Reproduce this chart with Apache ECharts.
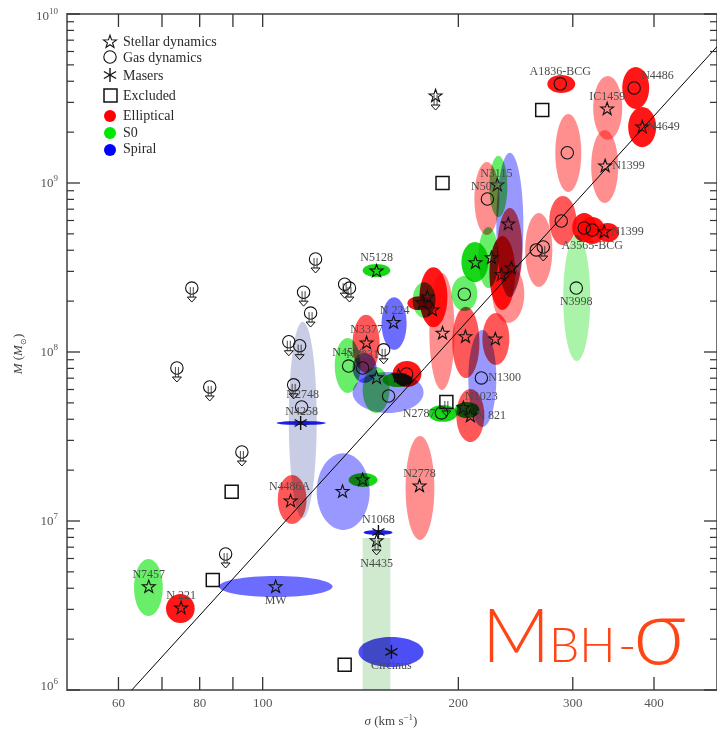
<!DOCTYPE html>
<html>
<head>
<meta charset="utf-8">
<script src="https://cdn.jsdelivr.net/npm/echarts@6/dist/echarts.min.js"></script>
<style>
  html, body { margin: 0; padding: 0; background: #ffffff; }
  #chart { width: 717px; height: 735px; }
</style>
</head>
<body>
<div id="chart"></div>
<script>
// Black-hole mass against bulge velocity dispersion, with error ellipses
// coloured by host type and markers by measurement method.

// ---- axis ticks ----
const xTickValues = [60, 70, 80, 90, 100, 200, 300, 400];
const xTickLabels = ['60', '', '80', '', '100', '200', '300', '400'];
const yDecades = [1e6, 1e7, 1e8, 1e9, 1e10];
const yDecadeExp = ['6', '7', '8', '9', '10'];
const yMinorSteps = [2, 3, 4, 5, 6, 7, 8, 9];

// ---- stellar-dynamics measurements ----
const starName = ['N7457', 'N 221', 'MW', 'N4486A', '', '', 'N4435', 'N2778', 'N5128', 'N 224',
  'N3377', '', '', 'N1023', 'N 821', '', '', '', '', '', '', '', '', '', '', '',
  'N3115', 'N1399', 'IC1459', 'N1399', 'N4649', ''];
const starSigma = [66.8, 74.9, 104.7, 110.4, 132.7, 142.5, 149.7, 174.3, 149.7, 159.0,
  144.5, 149.7, 161.8, 203.6, 208.7, 189.1, 205.1, 228.0, 179.2, 176.1, 182.5, 212.5, 224.9, 232.9, 241.3, 238.7,
  229.6, 335.3, 338.8, 336.4, 383.6, 184.5];
const starMass = [4.07e6, 3.05e6, 4.07e6, 1.31e7, 1.49e7, 1.75e7, 7.62e6, 1.61e7, 3.01e8, 1.49e8,
  1.13e8, 7.02e7, 7.21e7, 4.67e7, 4.18e7, 1.29e8, 1.23e8, 1.19e8, 2.11e8, 1.95e8, 1.77e8, 3.37e8, 3.60e8, 2.86e8, 3.14e8, 5.71e8,
  9.73e8, 5.13e8, 2.74e9, 1.26e9, 2.14e9, 3.27e9];
const starUpper = [0, 0, 0, 0, 0, 0, 1, 0, 0, 0,
  0, 0, 0, 0, 0, 0, 0, 0, 0, 0, 0, 0, 0, 0, 0, 0,
  0, 0, 0, 0, 0, 1];

// ---- gas-dynamics measurements ----
const gasName = ['N2748', 'N4596', 'N3031', '', '', 'N2787', 'N1300', '', 'N5077', '', '',
  'A3565-BCG', '', '', '', 'A1836-BCG', 'N4486', 'N3998',
  '', '', '', '', '', '', '', '', '', '', '', '', '', ''];
const gasSigma = [114.8, 135.6, 142.5, 156.2, 166.5, 188.4, 217.0, 204.3, 221.7, 263.6, 270.2,
  288.0, 312.4, 321.4, 294.2, 287.0, 372.8, 303.7,
  77.8, 73.8, 82.9, 92.9, 87.7, 120.6, 115.6, 118.5, 133.7, 136.0, 109.7, 114.0, 111.6, 153.5];
const gasMass = [4.73e7, 8.26e7, 8.04e7, 5.49e7, 7.41e7, 4.36e7, 7.02e7, 2.20e8, 8.04e8, 4.02e8, 4.18e8,
  5.96e8, 5.42e8, 5.27e8, 1.51e9, 3.86e9, 3.65e9, 2.39e8,
  2.39e8, 8.04e7, 6.21e7, 2.56e7, 6.38e6, 3.55e8, 2.26e8, 1.70e8, 2.52e8, 2.39e8, 1.15e8, 1.09e8, 6.39e7, 1.03e8];
const gasUpper = [0, 0, 0, 0, 0, 0, 0, 0, 0, 0, 1,
  0, 0, 0, 0, 0, 0, 0,
  1, 1, 1, 1, 1, 1, 1, 1, 1, 1, 1, 1, 1, 1];

// ---- maser measurements ----
const maserName = ['N1068', 'Circinus', 'N4258'];
const maserSigma = [150.7, 157.8, 114.4];
const maserMass = [8.61e6, 1.68e6, 3.80e7];

// ---- excluded objects ----
const exclSigma = [89.6, 83.8, 133.7, 269.2, 189.1, 191.7];
const exclMass = [1.49e7, 4.48e6, 1.41e6, 2.70e9, 1.0e9, 5.06e7];
const exclUpper = [0, 0, 0, 0, 0, 1];

// ---- error regions (sigma range, mass range, host type, shade) ----
const ellSigmaLo = [63.4, 71.0, 85.6, 105.5, 121.1, 135.6, 143.0, 140.4, 165.9, 105.1, 109.7,
  142.5, 152.4, 137.5, 129.1, 137.5, 142.5, 137.5, 158.4, 152.9, 179.8, 197.3, 198.6, 207.2,
  180.5, 195.8, 217.8, 195.2, 174.3, 170.1, 167.0, 202.2, 214.7, 223.3, 225.6, 229.6, 228.8,
  223.3, 211.7, 253.5, 276.1, 299.4, 306.9, 326.0, 282.0, 274.1, 357.4, 322.5, 320.2, 365.0, 290.0,
  142.5];
const ellSigmaHi = [70.2, 78.6, 128.1, 116.8, 146.1, 150.2, 158.4, 176.8, 183.7, 125.0, 121.1,
  157.2, 166.5, 151.3, 141.4, 149.7, 156.7, 176.8, 175.5, 170.0, 199.3, 215.5, 219.3, 228.8,
  197.3, 215.5, 239.6, 213.9, 192.4, 184.5, 181.8, 222.5, 230.5, 244.7, 252.6, 250.9, 251.8,
  237.9, 231.3, 279.0, 303.7, 326.0, 336.4, 353.6, 309.1, 302.6, 393.2, 357.4, 352.3, 403.1, 319.1,
  157.2];
const ellMassLo = [2.74e6, 2.49e6, 3.55e6, 9.60e6, 8.85e6, 1.59e7, 8.26e6, 1.37e6, 7.73e6, 3.70e7, 1.04e7,
  2.78e8, 1.03e8, 7.52e7, 5.72e7, 6.56e7, 4.36e7, 4.36e7, 6.21e7, 6.21e7, 3.86e7, 4.06e7, 2.93e7, 3.60e7,
  5.96e7, 7.02e7, 8.38e7, 1.75e8, 1.40e8, 1.59e8, 1.77e8, 2.59e8, 2.39e8, 1.77e8, 1.49e8, 2.23e8, 2.11e8,
  6.29e8, 4.92e8, 2.43e8, 4.29e8, 4.48e8, 4.36e8, 4.48e8, 8.85e8, 3.41e9, 2.74e9, 1.80e9, 7.62e8, 1.63e9, 8.85e7,
  1.0e5];
const ellMassHi = [5.96e6, 3.70e6, 4.73e6, 1.87e7, 2.52e7, 1.92e7, 8.85e6, 2.06e6, 3.18e7, 3.91e7, 1.51e8,
  3.32e8, 2.11e8, 1.66e8, 1.21e8, 9.86e7, 8.15e7, 7.62e7, 8.85e7, 7.52e7, 4.86e7, 5.06e7, 6.04e7, 1.35e8,
  2.93e8, 1.85e8, 1.70e8, 2.82e8, 3.17e8, 2.59e8, 2.14e8, 4.48e8, 5.50e8, 4.85e8, 3.27e8, 7.11e8, 1.51e9,
  1.45e9, 1.33e9, 6.64e8, 8.38e8, 6.64e8, 6.29e8, 5.80e8, 2.56e9, 4.35e9, 4.85e9, 4.30e9, 2.06e9, 2.82e9, 4.92e8,
  7.93e6];
const ellType = ['S0', 'E', 'S', 'E', 'S', 'S0', 'S', 'S', 'E', 'S', 'S',
  'S0', 'S', 'E', 'S0', 'S', 'S0', 'S', 'E', 'S0', 'S0', 'S0', 'E', 'S',
  'E', 'E', 'E', 'S0', 'E', 'S0', 'E', 'S0', 'S0', 'E', 'E', 'E', 'S',
  'S0', 'E', 'E', 'E', 'E', 'E', 'E', 'E', 'E', 'E', 'E', 'E', 'E', 'S0',
  'S0'];
const ellShade = ['mid', 'dark', 'mid', 'mid', 'light', 'dark', 'deep', 'dark', 'light', 'deep', 'pale',
  'dark', 'mid', 'mid', 'mid', 'mid', 'mid', 'light', 'dark', 'dark', 'dark', 'dark', 'mid', 'light',
  'light', 'mid', 'mid', 'mid', 'dark', 'mid', 'dark', 'dark', 'mid', 'dark', 'light', 'mid', 'light',
  'mid', 'light', 'light', 'mid', 'dark', 'dark', 'dark', 'light', 'dark', 'dark', 'light', 'light', 'dark', 'light',
  'pale'];
const ellShape = Array(51).fill('ellipse').concat(['band']);

// ---- best-fit relation, end points ----
const fitLine = [[62.9, 1.0e6], [500, 6.41e9]];

// ---- styling ----
const SERIF = '"Liberation Serif", "Times New Roman", serif';
const TITLE_FONT = 'Lato, "Open Sans", "Liberation Sans", sans-serif';
const INK = '#111111';
const LABEL_INK = '#4a4a4a';
const TITLE_INK = '#ff4515';
const palette = {
  E:  { dark: 'rgb(255,22,22)', mid: 'rgb(255,88,88)', light: 'rgb(255,142,142)' },
  S0: { dark: 'rgb(24,214,24)', mid: 'rgb(104,238,104)', light: 'rgb(170,244,170)', pale: 'rgb(208,234,208)' },
  S:  { deep: 'rgb(30,30,235)', dark: 'rgb(78,78,245)', mid: 'rgb(108,108,255)', light: 'rgb(152,152,255)', pale: 'rgb(200,204,228)' }
};
// label anchor: [align, dx, dy] relative to the marker
const labelPlace = {
  'N7457': ['center', 0, -12], 'N 221': ['center', 0, -12], 'MW': ['center', 0, 14],
  'N4486A': ['center', -1, -14], 'N4435': ['center', 0, 23], 'N2778': ['center', 0, -12],
  'N5128': ['center', 0, -13], 'N 224': ['center', 1, -12], 'N3377': ['center', 0, -13],
  'N1023': ['center', 18, -11], 'N 821': ['left', 6, 0], 'N3115': ['center', -1, -11],
  'N1399': ['left', 7, 0], 'IC1459': ['center', 0, -12], 'N4649': ['left', 5, 0],
  'N2748': ['center', 1, -12], 'N4596': ['center', 0, -13], 'N3031': ['center', 0, -13],
  'N2787': ['right', -6, 1], 'N1300': ['left', 7, 0], 'N5077': ['center', 0, -12],
  'A3565-BCG': ['center', 31, 25], 'A1836-BCG': ['center', 0, -12], 'N4486': ['left', 7, -12],
  'N3998': ['center', 0, 14], 'N1068': ['center', 0, -12], 'Circinus': ['center', 0, 14],
  'N4258': ['center', 1, -11]
};
const yLabelShift = [-3, 1, 1, 1, 3];

// ---- marker drawing helpers ----
function starPoints(x, y, R, r) {
  const pts = [];
  for (let k = 0; k < 10; k++) {
    const a = -Math.PI / 2 + k * Math.PI / 5;
    const rad = k % 2 ? r : R;
    pts.push([x + rad * Math.cos(a), y + rad * Math.sin(a)]);
  }
  return pts;
}
function starEl(x, y) {
  return { type: 'polygon', shape: { points: starPoints(x, y, 6.8, 2.7) },
    style: { fill: 'none', stroke: INK, lineWidth: 1.1 } };
}
function circleEl(x, y) {
  return { type: 'circle', shape: { cx: x, cy: y, r: 6.2 },
    style: { fill: 'none', stroke: INK, lineWidth: 1.1 } };
}
function squareEl(x, y) {
  return { type: 'rect', shape: { x: x - 6.5, y: y - 6.5, width: 13, height: 13 },
    style: { fill: 'none', stroke: INK, lineWidth: 1.5 } };
}
function asteriskEls(x, y) {
  const els = [];
  [90, 30, 150].forEach(function (deg) {
    const a = deg * Math.PI / 180, L = 7;
    els.push({ type: 'line', shape: { x1: x - L * Math.cos(a), y1: y - L * Math.sin(a),
      x2: x + L * Math.cos(a), y2: y + L * Math.sin(a) }, style: { stroke: INK, lineWidth: 1.4 } });
  });
  return els;
}
function arrowEls(x, y) {
  return [
    { type: 'line', shape: { x1: x - 1.5, y1: y - 1, x2: x - 1.5, y2: y + 9 }, style: { stroke: '#333', lineWidth: 0.9 } },
    { type: 'line', shape: { x1: x + 1.5, y1: y - 1, x2: x + 1.5, y2: y + 9 }, style: { stroke: '#333', lineWidth: 0.9 } },
    { type: 'polygon', shape: { points: [[x - 4.5, y + 9], [x + 4.5, y + 9], [x, y + 14]] },
      style: { fill: 'none', stroke: INK, lineWidth: 1 } }
  ];
}
function labelEl(name, x, y) {
  const p = labelPlace[name] || ['center', 0, -12];
  return { type: 'text', x: x + p[1], y: y + p[2],
    style: { text: name, fill: LABEL_INK, fontSize: 12, fontFamily: SERIF,
      align: p[0], verticalAlign: 'middle', textAlign: p[0], textVerticalAlign: 'middle' } };
}

function markerSeries(sigmaArr, massArr, nameArr, upperArr, drawFn) {
  return {
    type: 'custom', z: 6, clip: false, silent: true,
    data: sigmaArr.map(function (s, i) { return [s, massArr[i]]; }),
    encode: { x: 0, y: 1 },
    renderItem: function (params, api) {
      const i = params.dataIndex;
      const c = api.coord([api.value(0), api.value(1)]);
      let children = [].concat(drawFn(c[0], c[1]));
      if (upperArr && upperArr[i]) children = children.concat(arrowEls(c[0], c[1]));
      if (nameArr && nameArr[i]) children.push(labelEl(nameArr[i], c[0], c[1]));
      return { type: 'group', children: children };
    }
  };
}

function titlePart(text, x, y, size) {
  return { type: 'text', x: x, y: y, z: 100, style: { text: text, fill: TITLE_INK, fontSize: size,
    fontFamily: TITLE_FONT, fontWeight: 300, align: 'left', verticalAlign: 'middle' } };
}

const chart = echarts.init(document.getElementById('chart'), null, { renderer: 'canvas' });

// tick values for the mass axis
const yMinorValues = [];
yDecades.slice(0, -1).forEach(function (d) {
  yMinorSteps.forEach(function (s) { yMinorValues.push(s * d); });
});

const legendText = ['Stellar dynamics', 'Gas dynamics', 'Masers', 'Excluded', 'Elliptical', 'S0', 'Spiral'];
const legendY = [42, 58, 76, 96, 116, 133, 149];

const option = {
  animation: false,
  backgroundColor: '#ffffff',
  grid: { left: 67, top: 14, width: 651, height: 676, show: true,
    borderColor: '#707070', borderWidth: 2, backgroundColor: 'transparent' },
  xAxis: { type: 'log', logBase: 10, min: 50, max: 500,
    axisLine: { show: false }, axisTick: { show: false }, axisLabel: { show: false }, splitLine: { show: false } },
  yAxis: { type: 'log', logBase: 10, min: 1e6, max: 1e10,
    axisLine: { show: false }, axisTick: { show: false }, axisLabel: { show: false }, splitLine: { show: false } },
  graphic: [
    // legend symbols
    { type: 'polygon', shape: { points: starPoints(110, 42, 6.8, 2.7) }, style: { fill: 'none', stroke: INK, lineWidth: 1.1 } },
    { type: 'circle', shape: { cx: 110, cy: 57, r: 6.2 }, style: { fill: 'none', stroke: INK, lineWidth: 1.1 } },
    { type: 'group', children: asteriskEls(110, 75) },
    { type: 'rect', shape: { x: 104, y: 89, width: 13, height: 13 }, style: { fill: 'none', stroke: INK, lineWidth: 1.5 } },
    { type: 'circle', shape: { cx: 110, cy: 116, r: 6 }, style: { fill: 'rgb(255,0,0)' } },
    { type: 'circle', shape: { cx: 110, cy: 133, r: 6 }, style: { fill: 'rgb(0,232,0)' } },
    { type: 'circle', shape: { cx: 110, cy: 150, r: 6 }, style: { fill: 'rgb(0,0,255)' } }
  ].concat(legendText.map(function (t, i) {
    return { type: 'text', x: 123, y: legendY[i],
      style: { text: t, fill: '#2a2a2a', fontSize: 14, fontFamily: SERIF, verticalAlign: 'middle' } };
  })).concat([
    // axis titles
    { type: 'text', x: 391, y: 722, style: {
      text: '{i|σ} (km s{e|−1})', align: 'center', verticalAlign: 'middle', fill: '#444',
      fontSize: 13, fontFamily: SERIF,
      rich: { i: { fontStyle: 'italic', fontSize: 13, fontFamily: SERIF, fill: '#444', lineHeight: 18 },
              e: { fontSize: 9, fontFamily: SERIF, fill: '#444', lineHeight: 8, verticalAlign: 'top' } } } },
    { type: 'text', x: 19, y: 354, rotation: Math.PI / 2, style: {
      text: '{i|M} ({i|M}{s|⊙})', align: 'center', verticalAlign: 'middle', fill: '#444',
      fontSize: 13, fontFamily: SERIF,
      rich: { i: { fontStyle: 'italic', fontSize: 13, fontFamily: SERIF, fill: '#444', lineHeight: 18 },
              s: { fontSize: 8, fontFamily: SERIF, fill: '#444', lineHeight: 8, verticalAlign: 'bottom' } } } },
    // title
    titlePart('M', 482, 638, 75),
    titlePart('BH', 549, 647, 48),
    titlePart('-', 618, 647, 50),
    titlePart('σ', 633, 634, 92)
  ]),
  series: [
    // error regions, multiplied so overlaps darken
    {
      type: 'custom', z: 2, clip: true, silent: true, blendMode: 'multiply',
      data: ellSigmaLo.map(function (s, i) { return [s, ellMassLo[i], ellSigmaHi[i], ellMassHi[i]]; }),
      encode: { x: [0, 2], y: [1, 3] },
      renderItem: function (params, api) {
        const i = params.dataIndex;
        const p1 = api.coord([api.value(0), api.value(1)]);
        const p2 = api.coord([api.value(2), api.value(3)]);
        const fill = palette[ellType[i]][ellShade[i]];
        if (ellShape[i] === 'band') {
          return { type: 'rect', shape: { x: p1[0], y: p2[1], width: p2[0] - p1[0], height: p1[1] - p2[1] },
            style: { fill: fill } };
        }
        return { type: 'ellipse',
          shape: { cx: (p1[0] + p2[0]) / 2, cy: (p1[1] + p2[1]) / 2, rx: (p2[0] - p1[0]) / 2, ry: (p1[1] - p2[1]) / 2 },
          style: { fill: fill } };
      }
    },
    // best-fit relation
    {
      type: 'line', z: 4, data: fitLine, symbol: 'none', silent: true,
      lineStyle: { color: '#000', width: 1 }
    },
    markerSeries(starSigma, starMass, starName, starUpper, starEl),
    markerSeries(gasSigma, gasMass, gasName, gasUpper, circleEl),
    markerSeries(maserSigma, maserMass, maserName, null, asteriskEls),
    markerSeries(exclSigma, exclMass, null, exclUpper, squareEl),
    // sigma-axis ticks and labels
    {
      type: 'custom', z: 8, clip: false, silent: true,
      data: xTickValues.map(function (v) { return [v, 1e6]; }),
      encode: { x: 0, y: 1 },
      renderItem: function (params, api) {
        const i = params.dataIndex;
        const b = api.coord([api.value(0), 1e6]);
        const t = api.coord([api.value(0), 1e10]);
        const children = [
          { type: 'line', shape: { x1: b[0], y1: b[1], x2: b[0], y2: b[1] - 13 }, style: { stroke: '#333', lineWidth: 1.3 } },
          { type: 'line', shape: { x1: t[0], y1: t[1], x2: t[0], y2: t[1] + 13 }, style: { stroke: '#333', lineWidth: 1.3 } }
        ];
        if (xTickLabels[i]) {
          children.push({ type: 'text', x: b[0], y: b[1] + 14,
            style: { text: xTickLabels[i], fill: '#555', fontSize: 13, fontFamily: SERIF, align: 'center', verticalAlign: 'middle' } });
        }
        return { type: 'group', children: children };
      }
    },
    // mass-axis major ticks and labels
    {
      type: 'custom', z: 8, clip: false, silent: true,
      data: yDecades.map(function (v) { return [50, v]; }),
      encode: { x: 0, y: 1 },
      renderItem: function (params, api) {
        const i = params.dataIndex;
        const l = api.coord([50, api.value(1)]);
        const r = api.coord([500, api.value(1)]);
        return { type: 'group', children: [
          { type: 'line', shape: { x1: l[0], y1: l[1], x2: l[0] + 13, y2: l[1] }, style: { stroke: '#333', lineWidth: 1.3 } },
          { type: 'line', shape: { x1: r[0], y1: r[1], x2: r[0] - 13, y2: r[1] }, style: { stroke: '#333', lineWidth: 1.3 } },
          { type: 'text', x: 58, y: l[1] + yLabelShift[i], style: {
            text: '{b|10}{e|' + yDecadeExp[i] + '}', align: 'right', verticalAlign: 'middle',
            rich: { b: { fontSize: 13, fontFamily: SERIF, fill: '#555', lineHeight: 20 },
                    e: { fontSize: 9, fontFamily: SERIF, fill: '#555', lineHeight: 8, verticalAlign: 'top' } } } }
        ] };
      }
    },
    // mass-axis minor ticks
    {
      type: 'custom', z: 8, clip: false, silent: true,
      data: yMinorValues.map(function (v) { return [50, v]; }),
      encode: { x: 0, y: 1 },
      renderItem: function (params, api) {
        const l = api.coord([50, api.value(1)]);
        const r = api.coord([500, api.value(1)]);
        return { type: 'group', children: [
          { type: 'line', shape: { x1: l[0], y1: l[1], x2: l[0] + 7, y2: l[1] }, style: { stroke: '#333', lineWidth: 1.2 } },
          { type: 'line', shape: { x1: r[0], y1: r[1], x2: r[0] - 7, y2: r[1] }, style: { stroke: '#333', lineWidth: 1.2 } }
        ] };
      }
    }
  ]
};

chart.setOption(option);
</script>
</body>
</html>
